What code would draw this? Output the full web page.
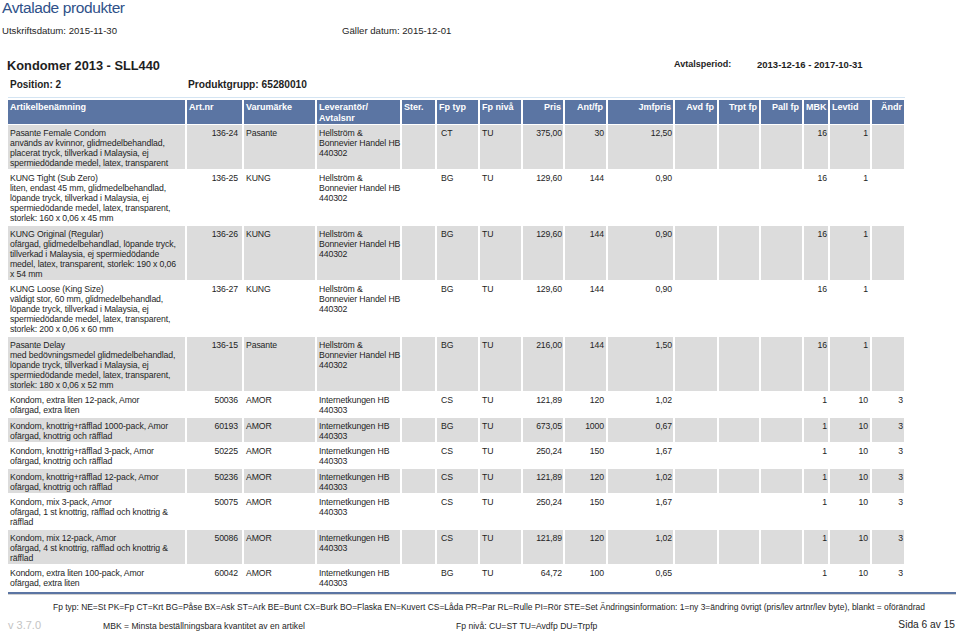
<!DOCTYPE html>
<html>
<head>
<meta charset="utf-8">
<script src="https://cdn.jsdelivr.net/npm/chart.js@4/dist/chart.umd.min.js"></script>
<style>
  body { margin: 0; width: 960px; height: 633px; background: #fff; position: relative; overflow: hidden;
         font-family: "Liberation Sans", Arial, sans-serif; color: #1e1e1e; }
  .abs { position: absolute; white-space: pre; }
  .cell { position: absolute; box-sizing: border-box; white-space: pre; font-size: 8.7px; letter-spacing: -0.12px;
          line-height: 10px; padding-top: 2.6px; }
  .hcell { position: absolute; box-sizing: border-box; white-space: pre; font-size: 9px; font-weight: bold;
           color: #fff; background: #5b75a3; line-height: 11px; padding-top: 1.5px; }
  .b { font-weight: bold; }
</style>
</head>
<body>
<div class="abs" style="left:2px;top:-1px;font-size:15.5px;letter-spacing:-0.4px;color:#2f5189;">Avtalade produkter</div>
<div class="abs" style="left:2px;top:25px;font-size:9.6px;">Utskriftsdatum: 2015-11-30</div>
<div class="abs" style="left:342px;top:25px;font-size:9.6px;">Gäller datum: 2015-12-01</div>
<div class="abs b" style="left:7px;top:58px;font-size:12.8px;">Kondomer 2013 - SLL440</div>
<div class="abs b" style="left:10px;top:79px;font-size:10px;">Position: 2</div>
<div class="abs b" style="left:188px;top:79px;font-size:10.2px;">Produktgrupp: 65280010</div>
<div class="abs b" style="left:674px;top:59px;font-size:9px;">Avtalsperiod:</div>
<div class="abs b" style="left:757px;top:59px;font-size:9.5px;">2013-12-16 - 2017-10-31</div>
<div class="abs" style="left:8px;top:97px;width:897px;height:1px;background:#d4e4f2;"></div>
<div id="table"></div>
<div class="abs" style="left:8px;top:592px;width:948px;height:2px;background:#5b75a3;"></div>
<div class="abs" style="left:8px;top:594px;width:948px;height:1px;background:#d0d0d0;"></div>
<div class="abs" style="left:53px;top:602px;font-size:8.45px;">Fp typ: NE=St PK=Fp CT=Krt BG=Påse BX=Ask ST=Ark BE=Bunt CX=Burk BO=Flaska EN=Kuvert CS=Låda PR=Par RL=Rulle PI=Rör STE=Set Ändringsinformation: 1=ny 3=ändring övrigt (pris/lev artnr/lev byte), blankt = oförändrad</div>
<div class="abs" style="left:8px;top:619px;font-size:11px;color:#c4c4c4;">v 3.7.0</div>
<div class="abs" style="left:103px;top:621px;font-size:8.6px;">MBK = Minsta beställningsbara kvantitet av en artikel</div>
<div class="abs" style="left:456px;top:621px;font-size:8.6px;">Fp nivå: CU=ST TU=Avdfp DU=Trpfp</div>
<div class="abs" style="right:5px;top:619px;font-size:10.2px;">Sida 6 av 15</div>
<script>
const headers = ['Artikelbenämning', 'Art.nr', 'Varumärke', 'Leverantör/\nAvtalsnr', 'Ster.', 'Fp typ', 'Fp nivå',
  'Pris', 'Ant/fp', 'Jmfpris', 'Avd fp', 'Trpt fp', 'Pall fp', 'MBK', 'Levtid', 'Ändr'];

const names = [
  'Pasante Female Condom\nanvänds av kvinnor, glidmedelbehandlad,\nplacerat tryck, tillverkad i Malaysia, ej\nspermiedödande medel, latex, transparent',
  'KUNG Tight (Sub Zero)\nliten, endast 45 mm, glidmedelbehandlad,\nlöpande tryck, tillverkad i Malaysia, ej\nspermiedödande medel, latex, transparent,\nstorlek: 160 x 0,06 x 45 mm',
  'KUNG Original (Regular)\nofärgad, glidmedelbehandlad, löpande tryck,\ntillverkad i Malaysia, ej spermiedödande\nmedel, latex, transparent, storlek: 190 x 0,06\nx 54 mm',
  'KUNG Loose (King Size)\nväldigt stor, 60 mm, glidmedelbehandlad,\nlöpande tryck, tillverkad i Malaysia, ej\nspermiedödande medel, latex, transparent,\nstorlek: 200 x 0,06 x 60 mm',
  'Pasante Delay\nmed bedövningsmedel glidmedelbehandlad,\nlöpande tryck, tillverkad i Malaysia, ej\nspermiedödande medel, latex, transparent,\nstorlek: 180 x 0,06 x 52 mm',
  'Kondom, extra liten 12-pack, Amor\nofärgad, extra liten',
  'Kondom, knottrig+räfflad 1000-pack, Amor\nofärgad, knottrig och räfflad',
  'Kondom, knottrig+räfflad 3-pack, Amor\nofärgad, knottrig och räfflad',
  'Kondom, knottrig+räfflad 12-pack, Amor\nofärgad, knottrig och räfflad',
  'Kondom, mix 3-pack, Amor\nofärgad, 1 st knottrig, räfflad och knottrig &\nräfflad',
  'Kondom, mix 12-pack, Amor\nofärgad, 4 st knottrig, räfflad och knottrig &\nräfflad',
  'Kondom, extra liten 100-pack, Amor\nofärgad, extra liten'
];
const artNr = ['136-24', '136-25', '136-26', '136-27', '136-15', '50036', '60193', '50225', '50236', '50075', '50086', '60042'];
const brands = ['Pasante', 'KUNG', 'KUNG', 'KUNG', 'Pasante', 'AMOR', 'AMOR', 'AMOR', 'AMOR', 'AMOR', 'AMOR', 'AMOR'];
const suppliers = ['Hellström &\nBonnevier Handel HB', 'Hellström &\nBonnevier Handel HB', 'Hellström &\nBonnevier Handel HB',
  'Hellström &\nBonnevier Handel HB', 'Hellström &\nBonnevier Handel HB', 'Internetkungen HB', 'Internetkungen HB',
  'Internetkungen HB', 'Internetkungen HB', 'Internetkungen HB', 'Internetkungen HB', 'Internetkungen HB'];
const contractNr = ['440302', '440302', '440302', '440302', '440302', '440303', '440303', '440303', '440303', '440303', '440303', '440303'];
const fpTyp = ['CT', 'BG', 'BG', 'BG', 'BG', 'CS', 'BG', 'CS', 'CS', 'CS', 'CS', 'BG'];
const fpNiva = ['TU', 'TU', 'TU', 'TU', 'TU', 'TU', 'TU', 'TU', 'TU', 'TU', 'TU', 'TU'];
const pris = ['375,00', '129,60', '129,60', '129,60', '216,00', '121,89', '673,05', '250,24', '121,89', '250,24', '121,89', '64,72'];
const antFp = [30, 144, 144, 144, 144, 120, 1000, 150, 120, 150, 120, 100];
const jmfpris = ['12,50', '0,90', '0,90', '0,90', '1,50', '1,02', '0,67', '1,67', '1,02', '1,67', '1,02', '0,65'];
const mbk = [16, 16, 16, 16, 16, 1, 1, 1, 1, 1, 1, 1];
const levtid = [1, 1, 1, 1, 1, 10, 10, 10, 10, 10, 10, 10];
const andr = ['', '', '', '', '', 3, 3, 3, 3, 3, 3, 3];

// column boxes: left, right, alignment, padding
const cols = [
  [8, 185, 'left', 2], [187, 242, 'right', 4], [244, 315, 'left', 2], [317, 400, 'left', 2],
  [402, 435, 'left', 2], [437, 478, 'left', 4], [480, 521, 'left', 2], [523, 563, 'right', 1],
  [565, 606, 'right', 2], [608, 673, 'right', 1], [675, 717, 'right', 2], [719, 759, 'right', 1],
  [761, 802, 'right', 2], [804, 828, 'right', 1], [830, 870, 'right', 2], [872, 904, 'right', 1]
];
const headAlign = ['left', 'left', 'left', 'left', 'left', 'left', 'left', 'right', 'right', 'right',
  'right', 'right', 'right', 'left', 'left', 'right'];

const table = document.getElementById('table');

function addCell(cls, text, col, y, height, align, bg) {
  const d = document.createElement('div');
  d.className = cls;
  d.textContent = text;
  d.style.left = col[0] + 'px';
  d.style.width = (col[1] - col[0]) + 'px';
  d.style.top = y + 'px';
  d.style.height = height + 'px';
  d.style.textAlign = align;
  if (align === 'right') d.style.paddingRight = col[3] + 'px';
  else d.style.paddingLeft = col[3] + 'px';
  if (bg) d.style.background = bg;
  table.appendChild(d);
}

let rowTop = 100;
headers.forEach((h, i) => {
  const pad = headAlign[i] === 'right' ? cols[i][3] + 1 : 2;
  addCell('hcell', h, [cols[i][0], cols[i][1], headAlign[i], pad], rowTop, 24, headAlign[i]);
});
rowTop += 25;

names.forEach((name, r) => {
  const supplierText = suppliers[r] + '\n' + contractNr[r];
  const lines = Math.max(name.split('\n').length, supplierText.split('\n').length);
  const height = lines * 10 + 3.5;
  const bg = r % 2 === 0 ? '#dcdcdc' : null;
  const values = [name, artNr[r], brands[r], supplierText, '', fpTyp[r], fpNiva[r], pris[r],
    String(antFp[r]), jmfpris[r], '', '', '', String(mbk[r]), String(levtid[r]), String(andr[r])];
  values.forEach((v, c) => addCell('cell', v, cols[c], rowTop, height, cols[c][2], bg));
  rowTop += height + 2;
});
</script>
</body>
</html>
